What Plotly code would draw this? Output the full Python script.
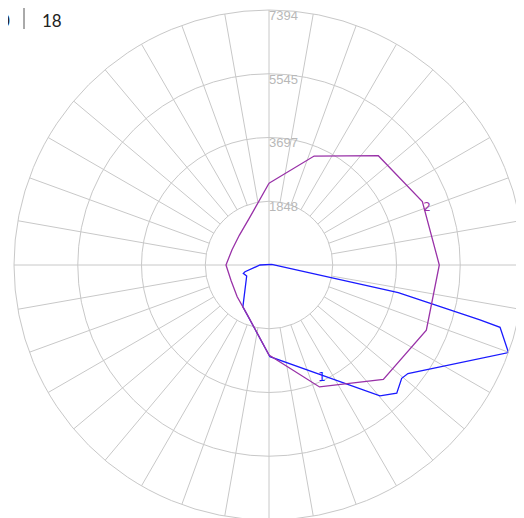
import plotly.graph_objects as go

# ---- data (compass degrees, clockwise from north) ----
series1_theta = [75, 102.1, 104.6, 105.1, 110.1, 128.0, 130.5, 135.1, 139.7, 179.4,
                 212.0, 243.7, 252.0, 254.4, 270.0, 435]
series1_r = [81, 3833, 6321, 6939, 7394, 5112, 5060, 5248, 4973, 2659,
             1430, 722, 783, 722, 261, 81]

series2_theta = [0, 22.5, 45, 67.5, 90, 112.5, 135, 157.5, 180, 202.5,
                 225, 247.5, 270, 292.5, 315, 337.5, 360]
series2_r = [2369, 3419, 4483, 4813, 4938, 4938, 4689, 3827, 2610, 1595,
             1305, 1189, 1247, 1160, 1218, 1479, 2369]

radial_ticks = [1848, 3697, 5545, 7394]
radial_labels = ["1848", "3697", "5545", "7394"]
series_names = ["1", "2"]
series_label_theta = [154.9, 70.0]
series_label_r = [3619, 4875]

R_MAX = 7394
GRID = "#c8c8c8"
BLUE = "#1a1aff"
PURPLE = "#9932a8"

fig = go.Figure()

# spokes (every 10 degrees), starting at first ring
sp_r, sp_t = [], []
for a in range(0, 360, 10):
    if a % 90 == 0:
        continue
    sp_r += [radial_ticks[0], R_MAX, None]
    sp_t += [a, a, None]
fig.add_trace(go.Scatterpolar(r=sp_r, theta=sp_t, mode="lines",
                              line=dict(color=GRID, width=1), hoverinfo="skip"))
# cross lines through centre
cr_r, cr_t = [], []
for a in (0, 90, 180, 270):
    cr_r += [0, R_MAX, None]
    cr_t += [a, a, None]
fig.add_trace(go.Scatterpolar(r=cr_r, theta=cr_t, mode="lines",
                              line=dict(color=GRID, width=1), hoverinfo="skip"))

# radial tick labels
fig.add_trace(go.Scatterpolar(r=radial_ticks, theta=[0] * len(radial_ticks),
                              mode="text", text=radial_labels,
                              textposition="bottom right", cliponaxis=False,
                              textfont=dict(family="Liberation Sans", size=13, color="#b8b8b8"),
                              hoverinfo="skip"))

# data series
fig.add_trace(go.Scatterpolar(r=series1_r, theta=series1_theta, mode="lines",
                              line=dict(color=BLUE, width=1.3), name="1"))
fig.add_trace(go.Scatterpolar(r=series2_r, theta=series2_theta, mode="lines",
                              line=dict(color=PURPLE, width=1.3), name="2"))

# series labels
fig.add_trace(go.Scatterpolar(r=series_label_r, theta=series_label_theta, mode="text",
                              text=series_names, textposition="middle center",
                              cliponaxis=False,
                              textfont=dict(family="DejaVu Sans", size=12, color=[BLUE, PURPLE]),
                              hoverinfo="skip"))

W, H = 524, 518
OFF = 8  # page body margin
cx, cy, rad = 269 - OFF, 265 - OFF, 255
fig.update_layout(
    width=W, height=H,
    margin=dict(l=0, r=0, t=0, b=0),
    paper_bgcolor="white",
    showlegend=False,
    polar=dict(
        domain=dict(x=[(cx - rad) / W, (cx + rad) / W],
                    y=[1 - (cy + rad) / H, 1 - (cy - rad) / H]),
        bgcolor="white",
        radialaxis=dict(range=[0, R_MAX], tickvals=radial_ticks[:-1],
                        showticklabels=False, ticks="", showline=False,
                        gridcolor=GRID, gridwidth=1),
        angularaxis=dict(rotation=90, direction="clockwise", showgrid=False,
                         showticklabels=False, ticks="", showline=True,
                         linecolor=GRID, linewidth=1),
    ),
    annotations=[
        dict(text="0", x=4 / W, y=1, xref="paper", yref="paper",
             xanchor="right", yanchor="top", showarrow=False,
             font=dict(family="Lato", size=17, color="#222222")),
        dict(text="18", x=(40 - OFF) / W, y=1, xref="paper", yref="paper",
             xanchor="left", yanchor="top", showarrow=False,
             font=dict(family="Lato", size=17, color="#222222")),
    ],
    shapes=[dict(type="line", xref="paper", yref="paper",
                 x0=(24 - OFF) / W, x1=(24 - OFF) / W, y0=1 + OFF / H, y1=1 - (29 - OFF) / H,
                 line=dict(color="#555555", width=1))],
)

fig.write_html("out.html")
